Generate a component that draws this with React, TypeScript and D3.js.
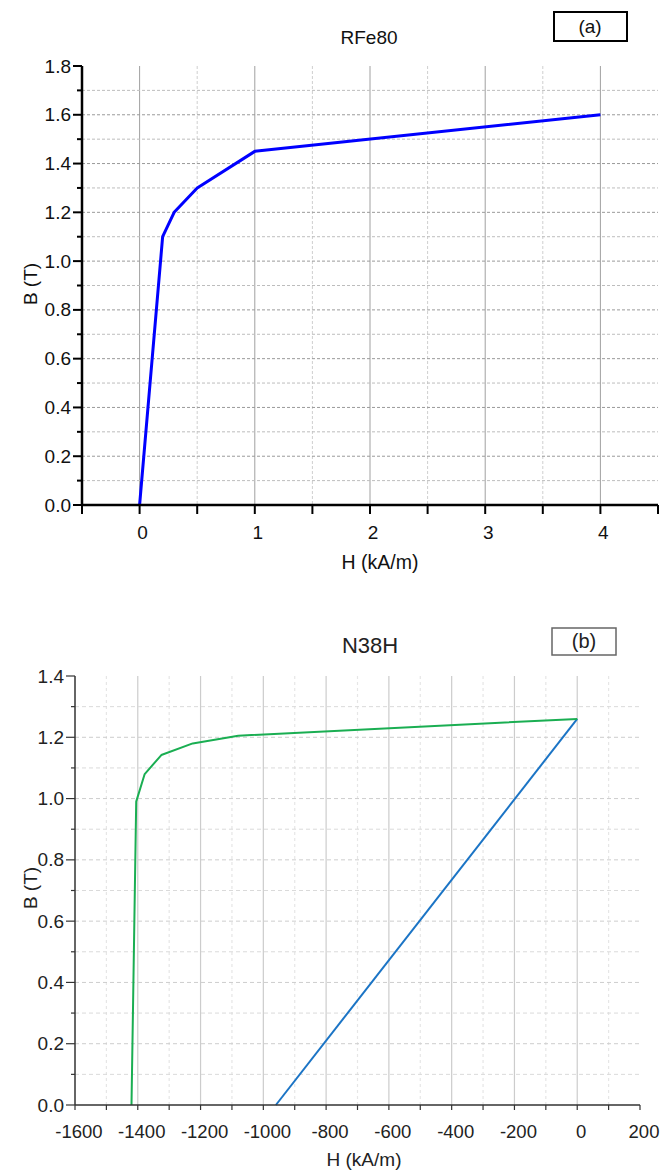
import React from "react";
import * as d3 from "d3";

// ---- Data: panel (a) RFe80 ----
const rfeH = [0, 0.2, 0.3, 0.5, 1, 4];
const rfeB = [0, 1.1, 1.2, 1.3, 1.45, 1.6];
const rfeXTicks = [0, 1, 2, 3, 4];
const rfeYTicks = [0.0, 0.2, 0.4, 0.6, 0.8, 1.0, 1.2, 1.4, 1.6, 1.8];

// ---- Data: panel (b) N38H ----
const ndGreenH = [-1420, -1405, -1378, -1325, -1225, -1080, 0];
const ndGreenB = [0, 0.99, 1.08, 1.142, 1.18, 1.205, 1.26];
const ndBlueH = [-960, 0];
const ndBlueB = [0, 1.26];
const ndXTicks = [-1600, -1400, -1200, -1000, -800, -600, -400, -200, 0, 200];
const ndYTicks = [0.0, 0.2, 0.4, 0.6, 0.8, 1.0, 1.2, 1.4];

const FONT = "'Liberation Sans', Arial, sans-serif";

function PanelA() {
  const x = d3.scaleLinear().domain([-0.5, 4.5]).range([82, 658]);
  const y = d3.scaleLinear().domain([0, 1.8]).range([505, 66]);
  const line = d3.line<number>().x((d, i) => x(rfeH[i])).y((d, i) => y(rfeB[i]));
  const halfX = d3.range(-0.5, 4.51, 0.5);
  const minorY = d3.range(1, 19).map((v) => v / 10);
  return (
    <g>
      {halfX.filter((v) => v > -0.5 && v < 4.5).map((v) => {
        const major = Math.abs(v - Math.round(v)) < 1e-6;
        return (
          <line key={"vx" + v} x1={x(v)} x2={x(v)} y1={y(1.8)} y2={y(0)}
            stroke={major ? "#a0a0a0" : "#cfcfcf"} strokeWidth={1}
            strokeDasharray={major ? undefined : "3,2"} />
        );
      })}
      {minorY.filter((v) => v < 1.79).map((v) => {
        const major = Math.round(v * 10) % 2 === 0;
        return (
          <line key={"hy" + v} x1={x(-0.5)} x2={x(4.5)} y1={y(v)} y2={y(v)}
            stroke={major ? "#9a9a9a" : "#bdbdbd"} strokeWidth={1} strokeDasharray="3,2" />
        );
      })}
      <path d={line(rfeB) || ""} fill="none" stroke="#0000ff" strokeWidth={3} strokeLinejoin="round" />
      <line x1={x(-0.5)} x2={x(-0.5)} y1={y(1.8)} y2={y(0) + 1} stroke="#000" strokeWidth={2.5} />
      <line x1={x(-0.5) - 1} x2={x(4.5)} y1={y(0)} y2={y(0)} stroke="#000" strokeWidth={2.5} />
      {halfX.map((v) => (
        <line key={"tx" + v} x1={x(v)} x2={x(v)} y1={y(0)} y2={y(0) + 9} stroke="#000" strokeWidth={2} />
      ))}
      {d3.range(0, 19).map((i) => {
        const v = i / 10;
        const major = i % 2 === 0;
        return (
          <line key={"ty" + i} x1={x(-0.5) - (major ? 9 : 5)} x2={x(-0.5)} y1={y(v)} y2={y(v)} stroke="#000" strokeWidth={2} />
        );
      })}
      {rfeYTicks.map((v) => (
        <text key={"ly" + v} x={71} y={y(v) + 6.5} textAnchor="end" fontSize={19} fontFamily={FONT} fill="#111">
          {v.toFixed(1)}
        </text>
      ))}
      {rfeXTicks.map((v) => (
        <text key={"lx" + v} x={x(v) + 3} y={539} textAnchor="middle" fontSize={19} fontFamily={FONT} fill="#111">
          {String(v)}
        </text>
      ))}
      <text x={369} y={44} textAnchor="middle" fontSize={19} fontFamily={FONT} fill="#111">RFe80</text>
      <text x={380} y={569} textAnchor="middle" fontSize={19.5} fontFamily={FONT} fill="#111">H (kA/m)</text>
      <text transform={`translate(37,284) rotate(-90)`} textAnchor="middle" fontSize={19} fontFamily={FONT} fill="#111">B (T)</text>
      <rect x={554} y={12} width={73} height={29} fill="#fff" stroke="#000" strokeWidth={2} />
      <text x={590} y={33} textAnchor="middle" fontSize={19} fontFamily={FONT} fill="#111">(a)</text>
    </g>
  );
}

function PanelB() {
  const x = d3.scaleLinear().domain([-1600, 200]).range([75, 640]);
  const y = d3.scaleLinear().domain([0, 1.4]).range([1105, 676]);
  const green = d3.line<number>().x((d, i) => x(ndGreenH[i])).y((d, i) => y(ndGreenB[i]));
  const blue = d3.line<number>().x((d, i) => x(ndBlueH[i])).y((d, i) => y(ndBlueB[i]));
  const xs = d3.range(-1600, 201, 100);
  return (
    <g>
      {xs.filter((v) => v > -1600 && v < 200).map((v) => {
        const major = v % 200 === 0;
        return (
          <line key={"vx" + v} x1={x(v)} x2={x(v)} y1={y(1.4)} y2={y(0)}
            stroke={major ? "#cccccc" : "#e6e6e6"} strokeWidth={1.2}
            strokeDasharray={major ? undefined : "3,3"} />
        );
      })}
      {d3.range(1, 14).map((i) => (
        <line key={"hy" + i} x1={x(-1600)} x2={x(200)} y1={y(i / 10)} y2={y(i / 10)}
          stroke={i % 2 === 0 ? "#cdcdcd" : "#dadada"} strokeWidth={1} strokeDasharray="4,3" />
      ))}
      <path d={blue(ndBlueB) || ""} fill="none" stroke="#1b74c5" strokeWidth={2} />
      <path d={green(ndGreenB) || ""} fill="none" stroke="#1aae52" strokeWidth={2} strokeLinejoin="round" />
      <line x1={x(-1600)} x2={x(-1600)} y1={y(1.4)} y2={y(0)} stroke="#333" strokeWidth={1.5} />
      <line x1={x(-1600)} x2={x(200)} y1={y(0)} y2={y(0)} stroke="#333" strokeWidth={1.5} />
      {xs.map((v) => (
        <line key={"tx" + v} x1={x(v)} x2={x(v)} y1={y(0)} y2={y(0) + 5} stroke="#333" strokeWidth={1.2} />
      ))}
      {d3.range(0, 15).map((i) => {
        const major = i % 2 === 0;
        return (
          <line key={"ty" + i} x1={x(-1600) - (major ? 9 : 4)} x2={x(-1600)} y1={y(i / 10)} y2={y(i / 10)} stroke="#333" strokeWidth={1.2} />
        );
      })}
      {ndYTicks.map((v) => (
        <text key={"ly" + v} x={64} y={y(v) + 6.5} textAnchor="end" fontSize={19} fontFamily={FONT} fill="#222">
          {v.toFixed(1)}
        </text>
      ))}
      {ndXTicks.map((v) => (
        <text key={"lx" + v} x={x(v) + 4} y={1138} textAnchor="middle" fontSize={18.5} fontFamily={FONT} fill="#222">
          {String(v)}
        </text>
      ))}
      <text x={370} y={653} textAnchor="middle" fontSize={22} fontFamily={FONT} fill="#222">N38H</text>
      <text x={364} y={1166} textAnchor="middle" fontSize={19} fontFamily={FONT} fill="#222">H (kA/m)</text>
      <text transform={`translate(37,888) rotate(-90)`} textAnchor="middle" fontSize={19} fontFamily={FONT} fill="#222">B (T)</text>
      <rect x={552} y={628} width={64} height={27} fill="#fff" stroke="#666" strokeWidth={1.5} />
      <text x={584} y={648} textAnchor="middle" fontSize={20} fontFamily={FONT} fill="#222">(b)</text>
    </g>
  );
}

export default function App() {
  return (
    <div style={{ position: "absolute", left: 0, top: 0 }}>
      <svg width={672} height={1171} style={{ display: "block", background: "#fff" }}>
        <rect x={0} y={0} width={672} height={1171} fill="#fff" />
        <PanelA />
        <PanelB />
      </svg>
    </div>
  );
}
